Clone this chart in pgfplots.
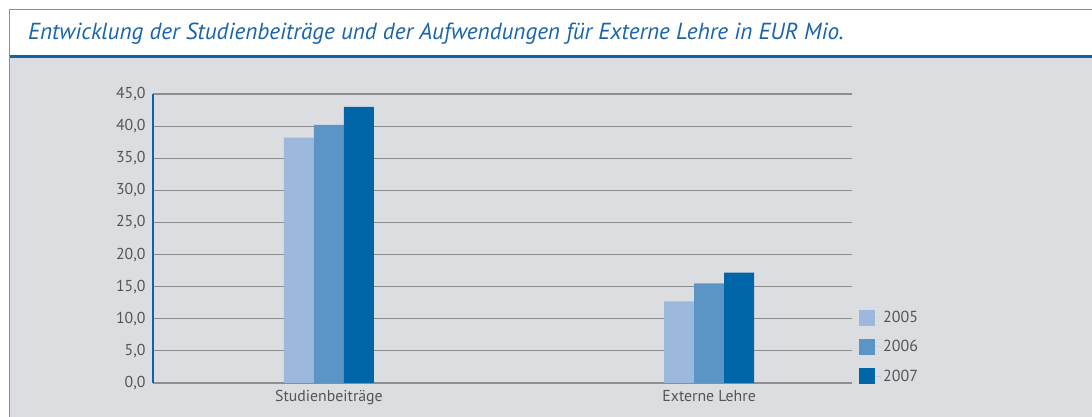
\documentclass[border=0pt]{standalone}
\usepackage{pgfplots}
\pgfplotsset{compat=1.18}
\usepackage{fontspec}
\setmainfont{PT Sans}
\definecolor{bgGrey}{HTML}{DCDDE0}
\definecolor{topBlue}{HTML}{5A9CCC}
\definecolor{darkBlue}{HTML}{0F64A8}
\definecolor{titleBlue}{HTML}{1A64AA}
\definecolor{gridGrey}{HTML}{8E8E90}
\definecolor{labGrey}{HTML}{555558}
\definecolor{cA}{HTML}{9CB8DC}
\definecolor{cB}{HTML}{5B95C8}
\definecolor{cC}{HTML}{0066A8}
\begin{document}
\begin{tikzpicture}
\useasboundingbox (0,0) rectangle (1092pt,417pt);
% frame
\fill[white] (10pt,361pt) rectangle (1092pt,407.5pt);
\fill[bgGrey] (10pt,0pt) rectangle (1092pt,361pt);
\draw[topBlue, line width=1.6pt] (9.5pt,407.5pt) -- (1092pt,407.5pt);
\draw[topBlue, line width=1.2pt] (9.5pt,407.5pt) -- (9.5pt,0pt);
\draw[darkBlue, line width=2.2pt] (9.5pt,360.5pt) -- (1092pt,360.5pt);
\node[anchor=base west, text=titleBlue, font=\fontsize{23.2}{26}\selectfont\itshape, inner sep=0pt]
  at (28pt,377pt) {Entwicklung der Studienbeiträge und der Aufwendungen für Externe Lehre in EUR Mio.};

\begin{axis}[
    scale only axis,
    width=699pt, height=289pt,
    at={(153pt,34pt)}, anchor=south west,
    ybar=0pt, bar width=30pt,
    xmin=-0.463, xmax=1.376,
    ymin=0, ymax=45, ytick={0,5,...,45},
    xtick={0,1}, xticklabels={Studienbeiträge,Externe Lehre},
    major tick length=0pt,
    ymajorgrids, grid style={gridGrey, line width=1.1pt},
    axis line style={draw=none},
    separate axis lines,
    axis x line*=bottom, axis y line*=left,
    x axis line style={draw=gridGrey, line width=1.1pt, -},
    y axis line style={draw=darkBlue, line width=2pt, -},
    ticklabel style={text=labGrey, font=\fontsize{15.8}{18}\selectfont},
    yticklabel style={xshift=-4pt},
    xticklabel style={yshift=-4pt},
    /pgf/number format/.cd, use comma, fixed, fixed zerofill, precision=1, assume math mode=true,
    /pgfplots/.cd,
    legend style={at={(axis description cs:1,0)}, anchor=south west, xshift=4pt, yshift=-4pt,
      draw=none, fill=none, font=\fontsize{16}{18}\selectfont, text=labGrey,
      row sep=12.5pt, cells={anchor=west}, /tikz/every even column/.append style={column sep=0pt}},
    legend image code/.code={\fill[#1] (0pt,-8pt) rectangle (16pt,8pt); \path (16pt,0pt) -- (22pt,0pt);},
]
\addplot[fill=cA, draw=none] coordinates {(0,38.2) (1,12.7)};
\addplot[fill=cB, draw=none] coordinates {(0,40.2) (1,15.5)};
\addplot[fill=cC, draw=none] coordinates {(0,43.0) (1,17.2)};
\legend{2005,2006,2007}
\end{axis}
\end{tikzpicture}
\end{document}
